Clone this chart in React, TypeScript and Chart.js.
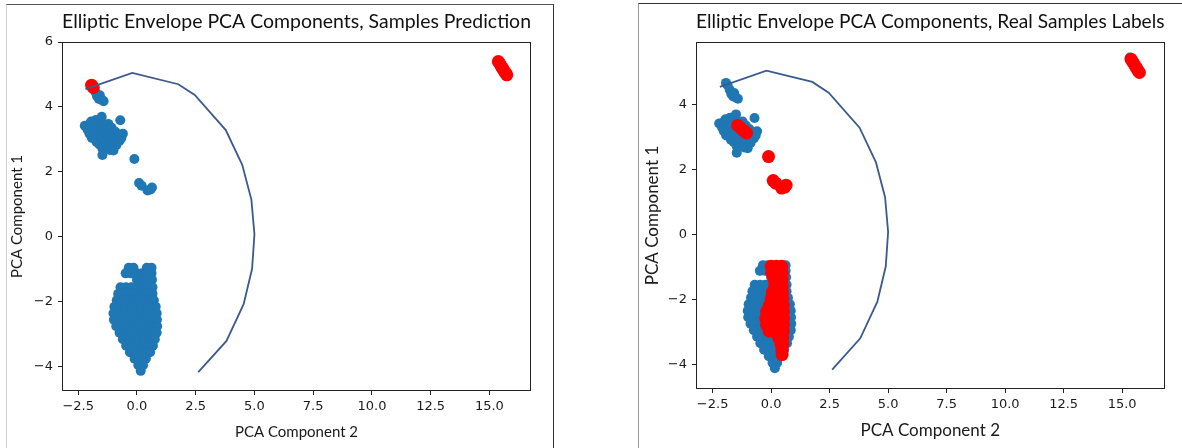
import React, { useEffect, useRef } from 'react';
import { Chart, registerables } from 'chart.js';

Chart.register(...registerables);

// ---------- tick labels ----------
const X_TICKS = [-2.5, 0, 2.5, 5, 7.5, 10, 12.5, 15];
const Y_TICKS_LEFT = [-4, -2, 0, 2, 4, 6];
const Y_TICKS_RIGHT = [-4, -2, 0, 2, 4];

const TITLE_LEFT = 'Elliptic Envelope PCA Components, Samples Prediction';
const TITLE_RIGHT = 'Elliptic Envelope PCA Components, Real Samples Labels';
const X_LABEL = 'PCA Component 2';
const Y_LABEL = 'PCA Component 1';

// ---------- envelope contour (decision boundary) ----------
const envelopeX = [-2.19, -0.2, 1.76, 2.46, 3.78, 4.48, 4.87, 5.0, 4.9, 4.54, 3.81, 2.61];
const envelopeY = [4.55, 5.05, 4.7, 4.37, 3.29, 2.22, 1.15, 0.08, -0.98, -2.07, -3.2, -4.16];

// ---------- scatter values (PCA component 2, PCA component 1) ----------
const topLeftCluster: [number, number][] = [
  [-1.77, 4.46], [-1.7, 4.33], [-1.62, 4.25], [-1.5, 4.22], [-1.58, 4.36], [-1.42, 4.18],
  [-2.22, 3.42], [-2.1, 3.3], [-2.05, 3.45], [-1.95, 3.55], [-1.9, 3.25], [-1.82, 3.42],
  [-1.75, 3.6], [-1.75, 3.1], [-1.72, 2.92], [-1.62, 3.55], [-1.6, 3.38], [-1.6, 3.18],
  [-1.6, 2.85], [-1.5, 3.7], [-1.48, 3.28], [-1.48, 3.05], [-1.47, 2.72], [-1.47, 2.52],
  [-1.36, 3.45], [-1.35, 3.22], [-1.33, 2.95], [-1.3, 2.75], [-1.22, 3.48], [-1.22, 3.3],
  [-1.2, 3.1], [-1.18, 2.88], [-1.15, 2.68], [-1.08, 3.36], [-1.05, 3.15], [-1.04, 2.88],
  [-1.0, 2.66], [-0.92, 3.24], [-0.9, 3.02], [-0.88, 2.82], [-0.8, 3.12], [-0.74, 2.96],
  [-0.6, 3.18], [-0.66, 3.05], [-0.71, 3.59], [-1.92, 3.05], [-2.02, 3.18],
];

const edgePoint: [number, number][] = [[-1.93, 4.67], [-1.86, 4.6]];

const middlePoints: [number, number][] = [
  [-0.11, 2.4], [0.09, 1.66], [0.2, 1.58], [0.45, 1.43], [0.58, 1.46], [0.64, 1.52],
];

const farStreak: [number, number][] = [
  [15.38, 5.4], [15.44, 5.33], [15.5, 5.26], [15.56, 5.19], [15.62, 5.12], [15.68, 5.05], [15.74, 4.99],
];
const farBluePoint: [number, number][] = [[15.33, 5.45]];

// main lower cluster, read row by row (PCA component 1 value, PCA component 2 values)
const lowerRowsY = [-0.95, -1.12, -1.32, -1.55, -1.75, -1.95, -2.15, -2.35, -2.55, -2.75, -2.95, -3.15, -3.35, -3.55, -3.75, -3.95, -4.12];
const lowerRowsX = [
  [-0.35, -0.15, 0.42, 0.62],
  [-0.48, -0.25, 0.0, 0.22, 0.44, 0.62],
  [0.0, 0.24, 0.45, 0.64],
  [-0.7, -0.47, -0.24, 0.0, 0.22, 0.44, 0.66],
  [-0.8, -0.56, -0.32, -0.08, 0.16, 0.4, 0.66],
  [-0.86, -0.62, -0.38, -0.14, 0.1, 0.34, 0.58, 0.72],
  [-0.96, -0.72, -0.48, -0.24, 0.0, 0.24, 0.48, 0.72, 0.8],
  [-1.0, -0.76, -0.52, -0.28, -0.04, 0.2, 0.44, 0.68, 0.84],
  [-0.98, -0.74, -0.5, -0.26, -0.02, 0.22, 0.46, 0.7, 0.85],
  [-0.88, -0.64, -0.4, -0.16, 0.08, 0.32, 0.56, 0.8, 0.86],
  [-0.74, -0.5, -0.26, -0.02, 0.22, 0.46, 0.7, 0.84],
  [-0.6, -0.36, -0.12, 0.12, 0.36, 0.6, 0.76],
  [-0.46, -0.22, 0.02, 0.26, 0.5, 0.68],
  [-0.3, -0.06, 0.18, 0.42, 0.56],
  [-0.1, 0.14, 0.38],
  [0.06, 0.26],
  [0.16],
];

// real anomalies inside the lower cluster (right chart)
const anomalyRowsY = [-0.98, -1.18, -1.38, -1.58, -1.78, -1.98, -2.18, -2.38, -2.58, -2.78, -2.98, -3.18, -3.38, -3.55, -3.7];
const anomalyRowsX = [
  [0.0, 0.22, 0.45],
  [0.02, 0.25, 0.47],
  [0.12, 0.32, 0.47],
  [0.15, 0.35, 0.48],
  [0.05, 0.27, 0.49],
  [0.0, 0.25, 0.5],
  [-0.08, 0.18, 0.42, 0.52],
  [-0.2, 0.05, 0.3, 0.53],
  [-0.23, 0.02, 0.27, 0.53],
  [-0.2, 0.05, 0.3, 0.53],
  [-0.08, 0.18, 0.42, 0.52],
  [0.32, 0.5],
  [0.42, 0.5],
  [0.46],
  [0.47],
];
const topLeftAnomalies: [number, number][] = [[-1.43, 3.36], [-1.3, 3.28], [-1.18, 3.2], [-1.05, 3.13]];

const BLUE = '#1f77b4';
const RED = '#ff0000';
const LINE = '#3b5a8c';

const rowsToPoints = (ys: number[], xs: number[][]) =>
  ys.flatMap((y, i) => xs[i].map((x) => ({ x, y })));
const pairsToPoints = (p: [number, number][]) => p.map(([x, y]) => ({ x, y }));

const framePlugin = {
  id: 'axesFrame',
  afterDatasetsDraw(chart: any) {
    const { ctx, chartArea: a } = chart;
    ctx.save();
    ctx.strokeStyle = '#222';
    ctx.lineWidth = 1;
    const l = Math.round(a.left) + 0.5;
    const t = Math.round(a.top) + 0.5;
    const r = Math.round(a.right) - 0.5;
    const b = Math.round(a.bottom) - 0.5;
    ctx.strokeRect(l, t, r - l, b - t);
    ctx.restore();
  },
};

const minus = (s: string) => s.replace('-', '\u2212');

interface Spec {
  title: string;
  xMin: number; xMax: number; yMin: number; yMax: number;
  yTicks: number[];
  yWidth: number; xHeight: number; padRight: number;
  labelSize: number; yLabelPad: number; xLabelPad: number;
  datasets: any[];
}

function buildConfig(s: Spec): any {
  return {
    type: 'scatter',
    data: { datasets: s.datasets },
    plugins: [framePlugin],
    options: {
      animation: false,
      responsive: false,
      events: [],
      layout: { padding: { left: 0, right: s.padRight, top: 0, bottom: 0 } },
      plugins: {
        legend: { display: false },
        tooltip: { enabled: false },
        title: {
          display: true,
          text: s.title,
          fullSize: false,
          color: '#111',
          font: { family: 'Lato', size: 20, weight: 'normal', lineHeight: 1.2 },
          padding: { top: 10, bottom: 8 },
        },
      },
      scales: {
        x: {
          type: 'linear',
          min: s.xMin,
          max: s.xMax,
          afterBuildTicks: (ax: any) => { ax.ticks = X_TICKS.map((v) => ({ value: v })); },
          afterFit: (ax: any) => { ax.height = s.xHeight; },
          ticks: {
            autoSkip: false, maxRotation: 0, padding: 4, color: '#1a1a1a',
            font: { family: 'DejaVu Sans', size: 13 },
            callback: (v: number) => minus(Number(v).toFixed(1)),
          },
          grid: { display: true, drawOnChartArea: false, drawTicks: true, tickLength: 4, tickColor: '#222', color: '#222' },
          border: { display: false },
          title: {
            display: true, text: X_LABEL, color: '#1a1a1a',
            font: { family: 'Lato', size: s.labelSize },
            padding: { top: 0, bottom: s.xLabelPad },
          },
        },
        y: {
          type: 'linear',
          min: s.yMin,
          max: s.yMax,
          afterBuildTicks: (ax: any) => { ax.ticks = s.yTicks.map((v) => ({ value: v })); },
          afterFit: (ax: any) => { ax.width = s.yWidth; },
          ticks: {
            autoSkip: false, padding: 5, color: '#1a1a1a',
            font: { family: 'DejaVu Sans', size: 13 },
            callback: (v: number) => minus(String(v)),
          },
          grid: { display: true, drawOnChartArea: false, drawTicks: true, tickLength: 4, tickColor: '#222', color: '#222' },
          border: { display: false },
          title: {
            display: true, text: Y_LABEL, color: '#1a1a1a',
            font: { family: 'Lato', size: s.labelSize },
            padding: { top: s.yLabelPad, bottom: 0 },
          },
        },
      },
    },
  };
}

const scatterSet = (label: string, pts: any[], color: string, radius: number, order: number) => ({
  label,
  data: pts,
  order,
  showLine: false,
  pointRadius: radius,
  pointHoverRadius: radius,
  pointBackgroundColor: color,
  pointBorderColor: color,
  pointBorderWidth: 0,
  borderWidth: 0,
});

const envelopeSet = () => ({
  label: 'envelope',
  data: envelopeX.map((x, i) => ({ x, y: envelopeY[i] })),
  order: 0,
  showLine: true,
  tension: 0,
  fill: false,
  pointRadius: 0,
  borderColor: LINE,
  borderWidth: 1.8,
});

export default function App() {
  const leftRef = useRef<HTMLCanvasElement>(null);
  const rightRef = useRef<HTMLCanvasElement>(null);

  useEffect(() => {
    const lower = rowsToPoints(lowerRowsY, lowerRowsX);
    const left = new Chart(leftRef.current as HTMLCanvasElement, buildConfig({
      title: TITLE_LEFT,
      xMin: -3.19, xMax: 16.77, yMin: -4.74, yMax: 6.0,
      yTicks: Y_TICKS_LEFT,
      yWidth: 62, xHeight: 57, padRight: 22,
      labelSize: 15, yLabelPad: 8, xLabelPad: 7,
      datasets: [
        envelopeSet(),
        scatterSet('outliers', [...pairsToPoints(edgePoint), ...pairsToPoints(farStreak)], RED, 6.5, 1),
        scatterSet('inliers', [
          ...pairsToPoints(topLeftCluster), ...pairsToPoints(middlePoints), ...lower,
        ], BLUE, 5, 2),
      ],
    }));
    const right = new Chart(rightRef.current as HTMLCanvasElement, buildConfig({
      title: TITLE_RIGHT,
      xMin: -3.21, xMax: 16.81, yMin: -4.76, yMax: 5.93,
      yTicks: Y_TICKS_RIGHT,
      yWidth: 57, xHeight: 59, padRight: 17.5,
      labelSize: 17, yLabelPad: 3, xLabelPad: 7,
      datasets: [
        envelopeSet(),
        scatterSet('anomaly', [
          ...pairsToPoints(topLeftAnomalies), ...pairsToPoints(middlePoints),
          ...pairsToPoints(farStreak), ...rowsToPoints(anomalyRowsY, anomalyRowsX),
        ], RED, 6.5, 1),
        scatterSet('normal', [
          ...pairsToPoints(edgePoint), ...pairsToPoints(topLeftCluster), ...lower,
          ...pairsToPoints(farBluePoint),
        ], BLUE, 5, 2),
      ],
    }));
    return () => { left.destroy(); right.destroy(); };
  }, []);

  return (
    <div style={{ position: 'fixed', left: 0, top: 0, width: 1182, height: 448, background: '#fff', overflow: 'hidden' }}>
      <div style={{ position: 'absolute', left: 6, top: 4, width: 548, height: 450, boxSizing: 'border-box',
        borderLeft: '1px solid #cfcfcf', borderTop: '1px solid #555', borderRight: '1px solid #333' }} />
      <div style={{ position: 'absolute', left: 638, top: 3, width: 560, height: 450, boxSizing: 'border-box',
        borderLeft: '1px solid #9a9a9a', borderTop: '1px solid #333' }} />
      <canvas ref={leftRef} width={553} height={448} style={{ position: 'absolute', left: 0, top: 0, width: 553, height: 448 }} />
      <canvas ref={rightRef} width={543} height={448} style={{ position: 'absolute', left: 639, top: 0, width: 543, height: 448 }} />
    </div>
  );
}
